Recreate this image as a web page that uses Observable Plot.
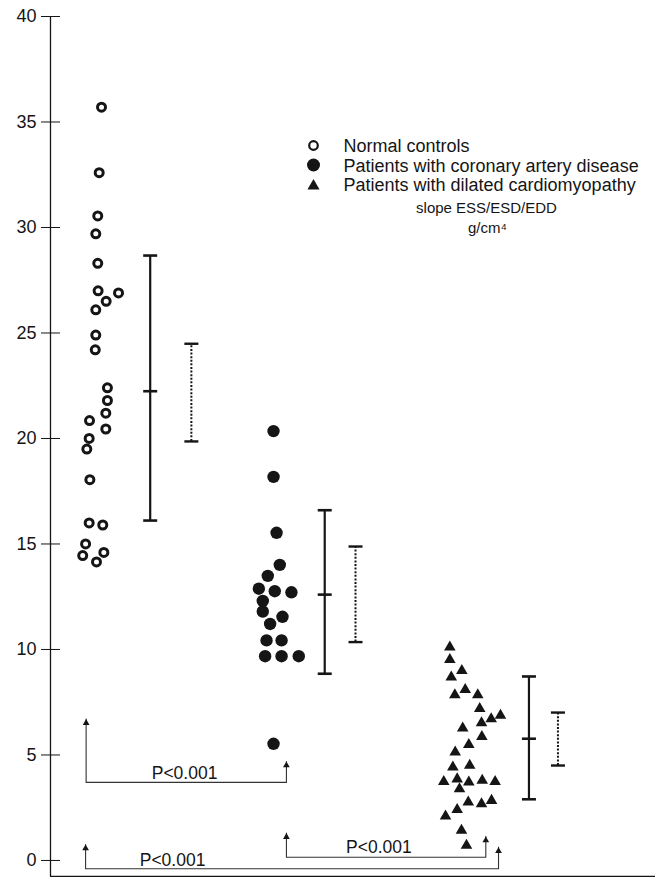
<!DOCTYPE html>
<html>
<head>
<meta charset="utf-8">
<script src="https://cdn.jsdelivr.net/npm/d3@7"></script>
<script src="https://cdn.jsdelivr.net/npm/@observablehq/plot@0.6"></script>
<style>
  html, body { margin: 0; padding: 0; background: #fff; }
  #chart svg { display: block; }
</style>
</head>
<body>
<div id="chart"></div>
<script>
// ---------------- DATA ----------------
const groups = ["Normal controls", "Patients with coronary artery disease", "Patients with dilated cardiomyopathy"];
const groupPos = [1, 2, 3];

const controlsValues = [35.7, 32.6, 30.55, 29.7, 28.3, 27.0, 26.9, 26.5, 26.1, 24.9, 24.2, 22.4, 21.8, 21.2, 20.85, 20.45, 20.0, 19.5, 18.05, 16.0, 15.9, 15.0, 14.45, 14.6, 14.15];
const controlsJitter = [0.028, 0.015, 0.007, -0.004, 0.007, 0.009, 0.123, 0.054, -0.004, -0.004, -0.007, 0.061, 0.061, 0.052, -0.039, 0.052, -0.041, -0.054, -0.037, -0.041, 0.035, -0.061, -0.077, 0.041, 0.0];

const cadValues = [20.35, 18.18, 15.53, 14.01, 13.49, 12.88, 12.76, 12.71, 12.30, 11.80, 11.55, 11.21, 10.43, 10.43, 9.68, 9.68, 9.68, 5.53];
const cadJitter = [-0.011, -0.011, 0.006, 0.024, -0.043, -0.093, -0.004, 0.089, -0.071, -0.071, 0.039, -0.030, -0.050, 0.034, -0.058, 0.034, 0.130, -0.011];

const dcmValues = [10.19, 9.60, 9.08, 8.77, 8.18, 7.93, 7.93, 7.27, 6.95, 6.79, 6.60, 6.35, 5.95, 5.57, 5.21, 4.58, 4.50, 3.82, 3.94, 3.79, 3.87, 3.82, 3.47, 2.84, 2.76, 2.92, 2.49, 2.18, 1.50, 0.79];
const dcmJitter = [-0.026, -0.026, 0.041, -0.018, 0.060, 0.002, 0.130, 0.141, 0.257, 0.205, 0.151, 0.046, 0.153, 0.080, 0.004, 0.085, -0.009, -0.060, 0.015, 0.080, 0.155, 0.227, 0.028, 0.077, 0.151, 0.207, 0.015, -0.050, 0.039, 0.067];

// summary statistics (mean, SD range = solid bar, dotted range)
const means  = [22.24, 12.6, 5.77];
const sdLow  = [16.11, 8.85, 2.9];
const sdHigh = [28.67, 16.6, 8.72];
const ciLow  = [19.86, 10.35, 4.5];
const ciHigh = [24.49, 14.88, 7.01];

// significance comparisons (group index pairs)
const compFrom = [0, 1, 0];
const compTo   = [1, 2, 2];
const pLabels  = ["P<0.001", "P<0.001", "P<0.001"];

const yTicks = [0, 5, 10, 15, 20, 25, 30, 35, 40];
const unitLabel1 = "slope ESS/ESD/EDD";
const unitLabel2 = "g/cm\u2074";

// ---------------- LAYOUT ----------------
const W = 655, H = 877;
const xDomain = [0.743, 4.123];
const yDomain = [-0.76, 40];
const pxPerX = 179;                     // pixels per group unit
const capHalf = 7 / pxPerX;
const solidOffset  = [0.30, 0.275, 0.416];
const dottedOffset = [0.53, 0.447, 0.578];
const bracketLayout = [
  {xl: -0.058, xr: 0.061, level: 3.70, tipL: 6.7, tipR: 4.69, lx: 1.492, ly: 4.14},
  {xl:  0.061, xr: 0.175, level: 0.15, tipL: 1.3, tipR: 1.14, lx: 2.578, ly: 0.63},
  {xl: -0.061, xr: 0.246, level: -0.39, tipL: 0.76, tipR: 0.63, lx: 1.425, ly: 0.02}
];
const ink = "#151515";
const font = "'Liberation Sans', Arial, Helvetica, sans-serif";

// ---------------- DERIVED TABLES ----------------
const mk = (vals, jit, gi) => vals.map((v, i) => ({group: groups[gi], x: groupPos[gi] + jit[i], y: v}));
const controlsPts = mk(controlsValues, controlsJitter, 0);
const cadPts = mk(cadValues, cadJitter, 1);
const dcmPts = mk(dcmValues, dcmJitter, 2);

const stats = groups.map((g, i) => ({
  xs: groupPos[i] + solidOffset[i], xd: groupPos[i] + dottedOffset[i],
  mean: means[i], sdLow: sdLow[i], sdHigh: sdHigh[i], ciLow: ciLow[i], ciHigh: ciHigh[i]
}));
const solidCaps = stats.flatMap(s => [s.sdLow, s.mean, s.sdHigh].map(y => ({x: s.xs, y})));
const dottedCaps = stats.flatMap(s => [s.ciLow, s.ciHigh].map(y => ({x: s.xd, y})));

const bracketPaths = [];
const arrowTips = [];
const bracketText = [];
compFrom.forEach((a, k) => {
  const b = compTo[k], L = bracketLayout[k];
  const xl = groupPos[a] + L.xl, xr = groupPos[b] + L.xr;
  [[xl, L.tipL], [xl, L.level], [xr, L.level], [xr, L.tipR]].forEach(([x, y]) => bracketPaths.push({k, x, y}));
  arrowTips.push({x: xl, y: L.tipL}, {x: xr, y: L.tipR});
  bracketText.push({x: L.lx, y: L.ly, text: pLabels[k]});
});

const legendSymbols = [
  {symbol: "circle", fill: "white", stroke: ink, r: 4.3, sw: 2.2},
  {symbol: "circle", fill: ink, stroke: "none", r: 6.5, sw: 0},
  {symbol: "triangle", fill: ink, stroke: "none", r: 4.5, sw: 0}
];
const legendRowDy = [129, 148.5, 168];

// ---------------- PLOT ----------------
const marks = [
  // axes frame
  Plot.ruleX([xDomain[0]], {y1: yDomain[0], y2: yDomain[1], stroke: ink, strokeWidth: 1.3}),
  Plot.ruleY([yDomain[0]], {x1: xDomain[0], x2: xDomain[1], stroke: ink, strokeWidth: 1.3}),
  Plot.axisY(yTicks, {tickSize: 9, tickPadding: 5, fontSize: 18, stroke: ink, fill: ink, strokeWidth: 1}),
  Plot.ruleY(yTicks, {y: d => d, x1: xDomain[0], x2: xDomain[0] + 10 / pxPerX, stroke: ink, strokeWidth: 1}),

  // brackets
  Plot.line(bracketPaths, {x: "x", y: "y", z: "k", stroke: "#333", strokeWidth: 1.1, curve: "linear"}),
  Plot.dot(arrowTips, {x: "x", y: "y", symbol: "triangle", r: 2.5, fill: ink, stroke: "none", dy: 3.9}),
  Plot.text(bracketText, {x: "x", y: "y", text: "text", fontSize: 17.5, fill: ink, textAnchor: "middle", lineAnchor: "middle"}),

  // solid bars (SD)
  Plot.ruleX(stats, {x: "xs", y1: "sdLow", y2: "sdHigh", stroke: ink, strokeWidth: 2.2}),
  Plot.link(solidCaps, {x1: d => d.x - capHalf, x2: d => d.x + capHalf, y1: "y", y2: "y", stroke: ink, strokeWidth: 2.6}),
  // dotted bars
  Plot.ruleX(stats, {x: "xd", y1: "ciLow", y2: "ciHigh", stroke: ink, strokeWidth: 2, strokeDasharray: "2,1.6"}),
  Plot.link(dottedCaps, {x1: d => d.x - capHalf, x2: d => d.x + capHalf, y1: "y", y2: "y", stroke: ink, strokeWidth: 2.4}),

  // points
  Plot.dot(controlsPts, {x: "x", y: "y", r: 4, fill: "white", stroke: ink, strokeWidth: 3}),
  Plot.dot(cadPts, {x: "x", y: "y", r: 6.2, fill: ink, stroke: "none"}),
  Plot.dot(dcmPts, {x: "x", y: "y", symbol: "triangle", r: 4.3, fill: ink, stroke: "none", dy: 1.7}),

  // unit labels
  Plot.text([unitLabel1], {frameAnchor: "top-left", dx: 436, dy: 192, text: d => d, fontSize: 15, fill: ink, textAnchor: "middle", lineAnchor: "middle"}),
  Plot.text([unitLabel2], {frameAnchor: "top-left", dx: 437, dy: 212, text: d => d, fontSize: 15, fill: ink, textAnchor: "middle", lineAnchor: "middle"}),

  // legend
  ...groups.map((g, i) => Plot.dot([g], {
    frameAnchor: "top-left", dx: 263, dy: legendRowDy[i] + (legendSymbols[i].symbol === "triangle" ? 1.5 : 0),
    symbol: legendSymbols[i].symbol, r: legendSymbols[i].r, fill: legendSymbols[i].fill,
    stroke: legendSymbols[i].stroke, strokeWidth: legendSymbols[i].sw
  })),
  ...groups.map((g, i) => Plot.text([g], {
    frameAnchor: "top-left", dx: 293, dy: legendRowDy[i] + 1, text: d => d,
    fontSize: 18, fill: ink, textAnchor: "start", lineAnchor: "middle"
  }))
];

const chart = Plot.plot({
  width: W,
  height: H,
  marginLeft: 50,
  marginRight: 0,
  marginTop: 16,
  marginBottom: 1,
  style: {fontFamily: font, background: "white", color: ink, overflow: "visible"},
  x: {domain: xDomain, axis: null},
  y: {domain: yDomain, axis: null},
  marks
});
document.getElementById("chart").appendChild(chart);
</script>
</body>
</html>
